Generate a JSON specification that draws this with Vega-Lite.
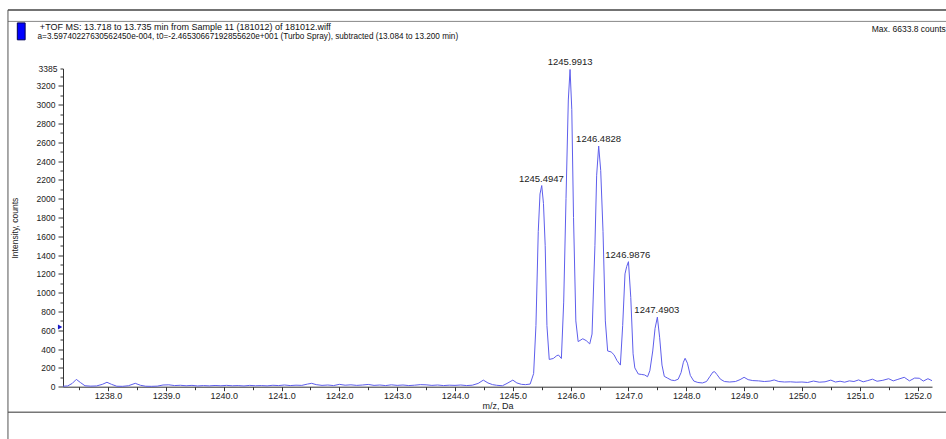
{
  "$schema": "https://vega.github.io/schema/vega-lite/v6.json",
  "width": 869,
  "height": 318.2,
  "autosize": {"type": "none"},
  "padding": {"left": 63, "top": 68.5, "right": 14, "bottom": 52.3},
  "background": "white",
  "config": {
    "view": {"stroke": null},
    "font": "Liberation Sans",
    "axis": {"grid": false, "domainColor": "#333", "tickColor": "#333", "labelColor": "#222", "titleColor": "#222", "labelFont": "Liberation Sans", "titleFont": "Liberation Sans", "titleFontWeight": "normal"}
  },
  "resolve": {"axis": {"x": "independent", "y": "independent"}},
  "layer": [
    {
      "data": {"values": [
        {"mz": 1237.22, "intensity": 5}, {"mz": 1237.30, "intensity": 8}, {"mz": 1237.38, "intensity": 35}, {"mz": 1237.45, "intensity": 78}, {"mz": 1237.52, "intensity": 45},
        {"mz": 1237.60, "intensity": 10}, {"mz": 1237.70, "intensity": 6}, {"mz": 1237.80, "intensity": 8}, {"mz": 1237.90, "intensity": 25}, {"mz": 1237.98, "intensity": 47},
        {"mz": 1238.06, "intensity": 25}, {"mz": 1238.15, "intensity": 5}, {"mz": 1238.25, "intensity": 4}, {"mz": 1238.35, "intensity": 10}, {"mz": 1238.47, "intensity": 36},
        {"mz": 1238.56, "intensity": 15}, {"mz": 1238.65, "intensity": 5}, {"mz": 1238.75, "intensity": 4}, {"mz": 1238.85, "intensity": 6}, {"mz": 1238.95, "intensity": 18},
        {"mz": 1239.05, "intensity": 20}, {"mz": 1239.15, "intensity": 12}, {"mz": 1239.25, "intensity": 15}, {"mz": 1239.35, "intensity": 10}, {"mz": 1239.45, "intensity": 14},
        {"mz": 1239.55, "intensity": 8}, {"mz": 1239.65, "intensity": 12}, {"mz": 1239.75, "intensity": 9}, {"mz": 1239.85, "intensity": 13}, {"mz": 1239.95, "intensity": 10},
        {"mz": 1240.05, "intensity": 14}, {"mz": 1240.15, "intensity": 10}, {"mz": 1240.25, "intensity": 12}, {"mz": 1240.35, "intensity": 8}, {"mz": 1240.45, "intensity": 14},
        {"mz": 1240.55, "intensity": 10}, {"mz": 1240.65, "intensity": 12}, {"mz": 1240.75, "intensity": 9}, {"mz": 1240.85, "intensity": 15}, {"mz": 1240.95, "intensity": 12},
        {"mz": 1241.05, "intensity": 18}, {"mz": 1241.15, "intensity": 12}, {"mz": 1241.25, "intensity": 16}, {"mz": 1241.35, "intensity": 14}, {"mz": 1241.45, "intensity": 28},
        {"mz": 1241.52, "intensity": 36}, {"mz": 1241.60, "intensity": 22}, {"mz": 1241.70, "intensity": 14}, {"mz": 1241.80, "intensity": 18}, {"mz": 1241.90, "intensity": 12},
        {"mz": 1242.00, "intensity": 25}, {"mz": 1242.10, "intensity": 16}, {"mz": 1242.20, "intensity": 20}, {"mz": 1242.30, "intensity": 14}, {"mz": 1242.40, "intensity": 18},
        {"mz": 1242.50, "intensity": 24}, {"mz": 1242.60, "intensity": 14}, {"mz": 1242.70, "intensity": 18}, {"mz": 1242.80, "intensity": 12}, {"mz": 1242.90, "intensity": 20},
        {"mz": 1243.00, "intensity": 14}, {"mz": 1243.10, "intensity": 18}, {"mz": 1243.20, "intensity": 12}, {"mz": 1243.30, "intensity": 16}, {"mz": 1243.40, "intensity": 22},
        {"mz": 1243.50, "intensity": 20}, {"mz": 1243.60, "intensity": 14}, {"mz": 1243.70, "intensity": 18}, {"mz": 1243.80, "intensity": 12}, {"mz": 1243.90, "intensity": 16},
        {"mz": 1244.00, "intensity": 14}, {"mz": 1244.10, "intensity": 18}, {"mz": 1244.20, "intensity": 12}, {"mz": 1244.30, "intensity": 16}, {"mz": 1244.40, "intensity": 35},
        {"mz": 1244.49, "intensity": 70}, {"mz": 1244.57, "intensity": 40}, {"mz": 1244.65, "intensity": 22}, {"mz": 1244.72, "intensity": 15}, {"mz": 1244.82, "intensity": 10},
        {"mz": 1244.90, "intensity": 35}, {"mz": 1245.00, "intensity": 70}, {"mz": 1245.07, "intensity": 40}, {"mz": 1245.15, "intensity": 25}, {"mz": 1245.22, "intensity": 22},
        {"mz": 1245.30, "intensity": 28}, {"mz": 1245.36, "intensity": 140}, {"mz": 1245.40, "intensity": 650}, {"mz": 1245.44, "intensity": 1650}, {"mz": 1245.47, "intensity": 2050},
        {"mz": 1245.50, "intensity": 2140}, {"mz": 1245.53, "intensity": 1950}, {"mz": 1245.56, "intensity": 1500}, {"mz": 1245.59, "intensity": 650}, {"mz": 1245.63, "intensity": 290},
        {"mz": 1245.70, "intensity": 300}, {"mz": 1245.76, "intensity": 330}, {"mz": 1245.79, "intensity": 337}, {"mz": 1245.84, "intensity": 300}, {"mz": 1245.88, "intensity": 900},
        {"mz": 1245.92, "intensity": 2000}, {"mz": 1245.96, "intensity": 3050}, {"mz": 1245.99, "intensity": 3375}, {"mz": 1246.02, "intensity": 2950}, {"mz": 1246.05, "intensity": 1800},
        {"mz": 1246.09, "intensity": 700}, {"mz": 1246.13, "intensity": 480}, {"mz": 1246.21, "intensity": 510}, {"mz": 1246.27, "intensity": 490}, {"mz": 1246.33, "intensity": 455},
        {"mz": 1246.37, "intensity": 560}, {"mz": 1246.42, "intensity": 1500}, {"mz": 1246.45, "intensity": 2250}, {"mz": 1246.485, "intensity": 2560}, {"mz": 1246.52, "intensity": 2300},
        {"mz": 1246.56, "intensity": 1650}, {"mz": 1246.60, "intensity": 700}, {"mz": 1246.64, "intensity": 380}, {"mz": 1246.70, "intensity": 370}, {"mz": 1246.75, "intensity": 340},
        {"mz": 1246.80, "intensity": 280}, {"mz": 1246.86, "intensity": 230}, {"mz": 1246.90, "intensity": 650}, {"mz": 1246.94, "intensity": 1200}, {"mz": 1246.97, "intensity": 1280},
        {"mz": 1247.00, "intensity": 1330}, {"mz": 1247.04, "intensity": 950}, {"mz": 1247.08, "intensity": 350}, {"mz": 1247.11, "intensity": 200}, {"mz": 1247.17, "intensity": 135},
        {"mz": 1247.23, "intensity": 130}, {"mz": 1247.28, "intensity": 125}, {"mz": 1247.33, "intensity": 106}, {"mz": 1247.37, "intensity": 170}, {"mz": 1247.42, "intensity": 380},
        {"mz": 1247.46, "intensity": 620}, {"mz": 1247.50, "intensity": 740}, {"mz": 1247.54, "intensity": 520}, {"mz": 1247.58, "intensity": 230}, {"mz": 1247.62, "intensity": 110},
        {"mz": 1247.68, "intensity": 90}, {"mz": 1247.74, "intensity": 70}, {"mz": 1247.80, "intensity": 65}, {"mz": 1247.86, "intensity": 80}, {"mz": 1247.91, "intensity": 150},
        {"mz": 1247.95, "intensity": 260}, {"mz": 1247.98, "intensity": 302}, {"mz": 1248.02, "intensity": 250}, {"mz": 1248.07, "intensity": 120}, {"mz": 1248.13, "intensity": 60},
        {"mz": 1248.20, "intensity": 45}, {"mz": 1248.28, "intensity": 40}, {"mz": 1248.35, "intensity": 55}, {"mz": 1248.41, "intensity": 110}, {"mz": 1248.46, "intensity": 155},
        {"mz": 1248.49, "intensity": 160}, {"mz": 1248.53, "intensity": 130}, {"mz": 1248.59, "intensity": 80}, {"mz": 1248.66, "intensity": 55}, {"mz": 1248.75, "intensity": 50},
        {"mz": 1248.85, "intensity": 55}, {"mz": 1248.93, "intensity": 75}, {"mz": 1249.00, "intensity": 100}, {"mz": 1249.07, "intensity": 75}, {"mz": 1249.15, "intensity": 65},
        {"mz": 1249.25, "intensity": 62}, {"mz": 1249.35, "intensity": 55}, {"mz": 1249.45, "intensity": 60}, {"mz": 1249.52, "intensity": 72}, {"mz": 1249.60, "intensity": 55},
        {"mz": 1249.70, "intensity": 50}, {"mz": 1249.80, "intensity": 52}, {"mz": 1249.90, "intensity": 48}, {"mz": 1250.00, "intensity": 50}, {"mz": 1250.10, "intensity": 45},
        {"mz": 1250.20, "intensity": 60}, {"mz": 1250.30, "intensity": 48}, {"mz": 1250.40, "intensity": 52}, {"mz": 1250.50, "intensity": 70}, {"mz": 1250.58, "intensity": 50},
        {"mz": 1250.66, "intensity": 58}, {"mz": 1250.74, "intensity": 48}, {"mz": 1250.82, "intensity": 62}, {"mz": 1250.90, "intensity": 55}, {"mz": 1250.98, "intensity": 72},
        {"mz": 1251.06, "intensity": 52}, {"mz": 1251.14, "intensity": 65}, {"mz": 1251.22, "intensity": 80}, {"mz": 1251.30, "intensity": 58}, {"mz": 1251.40, "intensity": 68},
        {"mz": 1251.50, "intensity": 85}, {"mz": 1251.58, "intensity": 62}, {"mz": 1251.66, "intensity": 78}, {"mz": 1251.77, "intensity": 100}, {"mz": 1251.86, "intensity": 62},
        {"mz": 1251.95, "intensity": 92}, {"mz": 1252.03, "intensity": 90}, {"mz": 1252.10, "intensity": 60}, {"mz": 1252.18, "intensity": 85}, {"mz": 1252.25, "intensity": 64}
      ]},
      "mark": {"type": "line", "color": "#5e5eec", "strokeWidth": 1, "clip": false},
      "encoding": {
        "x": {
          "field": "mz", "type": "quantitative",
          "scale": {"domain": [1237.22, 1252.25], "nice": false, "zero": false},
          "axis": {
            "orient": "bottom",
            "title": "m/z, Da", "titleFontSize": 9, "titlePadding": 1,
            "values": [1237.5, 1238, 1238.5, 1239, 1239.5, 1240, 1240.5, 1241, 1241.5, 1242, 1242.5, 1243, 1243.5, 1244, 1244.5, 1245, 1245.5, 1246, 1246.5, 1247, 1247.5, 1248, 1248.5, 1249, 1249.5, 1250, 1250.5, 1251, 1251.5, 1252],
            "labelExpr": "datum.value % 1 === 0 ? format(datum.value, '.1f') : ''",
            "labelOverlap": false, "labelFlush": false, "labelFontSize": 9, "labelPadding": 1,
            "tickSize": {"condition": {"test": "datum.value % 1 === 0", "value": 4}, "value": 3}
          }
        },
        "y": {
          "field": "intensity", "type": "quantitative",
          "scale": {"domain": [0, 3385], "nice": false, "zero": false},
          "axis": {
            "orient": "left",
            "title": "Intensity, counts", "titleFontSize": 8.5, "titlePadding": 17,
            "values": [0, 100, 200, 300, 400, 500, 600, 700, 800, 900, 1000, 1100, 1200, 1300, 1400, 1500, 1600, 1700, 1800, 1900, 2000, 2100, 2200, 2300, 2400, 2500, 2600, 2700, 2800, 2900, 3000, 3100, 3200, 3300, 3385],
            "labelExpr": "datum.value % 200 === 0 || datum.value === 3385 ? format(datum.value, 'd') : ''",
            "labelOverlap": false, "labelFlush": false, "labelFontSize": 8.5, "labelPadding": 3,
            "tickSize": {"condition": {"test": "datum.value % 200 === 0", "value": 5}, "value": 3}
          }
        }
      }
    },
    {
      "data": {"values": [
        {"mz": 1245.4947, "intensity": 2140},
        {"mz": 1245.9913, "intensity": 3375},
        {"mz": 1246.4828, "intensity": 2560},
        {"mz": 1246.9876, "intensity": 1330},
        {"mz": 1247.4903, "intensity": 740}
      ]},
      "mark": {"type": "text", "baseline": "bottom", "align": "center", "dy": -2, "fontSize": 9.5, "color": "#222", "clip": false},
      "encoding": {
        "x": {"field": "mz", "type": "quantitative", "axis": null},
        "y": {"field": "intensity", "type": "quantitative", "axis": null},
        "text": {"field": "mz", "type": "quantitative", "format": ".4f"}
      }
    },
    {
      "data": {"values": [{}]},
      "mark": {"type": "text", "text": "+TOF MS: 13.718 to 13.735 min from Sample 11 (181012) of 181012.wiff", "align": "left", "baseline": "alphabetic", "fontSize": 9, "color": "#111", "clip": false},
      "encoding": {
        "x": {"datum": 1236.82, "type": "quantitative", "axis": null},
        "y": {"datum": 3790, "type": "quantitative", "axis": null}
      }
    },
    {
      "data": {"values": [{}]},
      "mark": {"type": "text", "text": "a=3.59740227630562450e-004, t0=-2.46530667192855620e+001 (Turbo Spray), subtracted (13.084 to 13.200 min)", "align": "left", "baseline": "alphabetic", "fontSize": 8.2, "color": "#111", "clip": false},
      "encoding": {
        "x": {"datum": 1236.78, "type": "quantitative", "axis": null},
        "y": {"datum": 3697, "type": "quantitative", "axis": null}
      }
    },
    {
      "data": {"values": [{}]},
      "mark": {"type": "rule", "color": "#444", "strokeWidth": 1.5, "clip": false},
      "encoding": {
        "x": {"datum": 1236.268, "type": "quantitative", "axis": null},
        "x2": {"datum": 1252.497},
        "y": {"datum": 4008, "type": "quantitative", "axis": null}
      }
    },
    {
      "data": {"values": [{}]},
      "mark": {"type": "rule", "color": "#888", "strokeWidth": 1, "clip": false},
      "encoding": {
        "x": {"datum": 1236.268, "type": "quantitative", "axis": null},
        "x2": {"datum": 1252.497},
        "y": {"datum": 3886, "type": "quantitative", "axis": null}
      }
    },
    {
      "data": {"values": [{}]},
      "mark": {"type": "rule", "color": "#777", "strokeWidth": 1.5, "clip": false},
      "encoding": {
        "x": {"datum": 1236.268, "type": "quantitative", "axis": null},
        "x2": {"datum": 1252.497},
        "y": {"datum": -272, "type": "quantitative", "axis": null}
      }
    },
    {
      "data": {"values": [{}]},
      "mark": {"type": "rule", "color": "#555", "strokeWidth": 1, "clip": false},
      "encoding": {
        "x": {"datum": 1236.268, "type": "quantitative", "axis": null},
        "y": {"datum": 4008, "type": "quantitative", "axis": null},
        "y2": {"datum": -560}
      }
    },
    {
      "data": {"values": [{}]},
      "mark": {"type": "rect", "fill": "#0000ff", "stroke": "#000055", "strokeWidth": 1, "clip": false},
      "encoding": {
        "x": {"datum": 1236.43, "type": "quantitative", "axis": null},
        "x2": {"datum": 1236.565},
        "y": {"datum": 3870, "type": "quantitative", "axis": null},
        "y2": {"datum": 3690}
      }
    },
    {
      "data": {"values": [{}]},
      "mark": {"type": "text", "text": "Max. 6633.8 counts", "align": "right", "baseline": "alphabetic", "fontSize": 8.5, "color": "#111", "clip": false},
      "encoding": {
        "x": {"datum": 1252.49, "type": "quantitative", "axis": null},
        "y": {"datum": 3774, "type": "quantitative", "axis": null}
      }
    },
    {
      "data": {"values": [{}]},
      "mark": {"type": "point", "shape": "triangle-right", "filled": true, "size": 25, "color": "#1a1ac8", "opacity": 1, "clip": false},
      "encoding": {
        "x": {"datum": 1237.17, "type": "quantitative", "axis": null},
        "y": {"datum": 635, "type": "quantitative", "axis": null}
      }
    }
  ]
}
